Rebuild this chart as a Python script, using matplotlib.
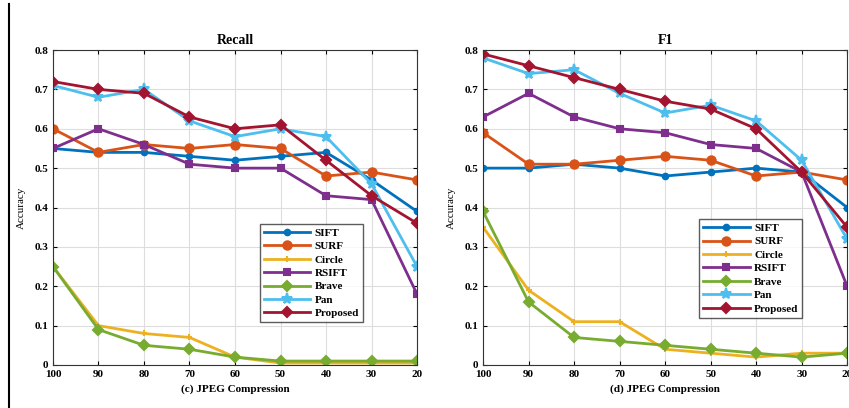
import matplotlib
matplotlib.use("Agg")
import matplotlib.pyplot as plt
from matplotlib.lines import Line2D

plt.rcParams['font.family'] = ['Liberation Serif', 'DejaVu Serif']

quality = [100, 90, 80, 70, 60, 50, 40, 30, 20]
methods = ["SIFT", "SURF", "Circle", "RSIFT", "Brave", "Pan", "Proposed"]

# Recall
recall_sift = [0.55, 0.54, 0.54, 0.53, 0.52, 0.53, 0.54, 0.47, 0.39]
recall_surf = [0.60, 0.54, 0.56, 0.55, 0.56, 0.55, 0.48, 0.49, 0.47]
recall_circle = [0.25, 0.10, 0.08, 0.07, 0.02, 0.005, 0.005, 0.005, 0.005]
recall_rsift = [0.55, 0.60, 0.56, 0.51, 0.50, 0.50, 0.43, 0.42, 0.18]
recall_brave = [0.25, 0.09, 0.05, 0.04, 0.02, 0.01, 0.01, 0.01, 0.01]
recall_pan = [0.71, 0.68, 0.70, 0.62, 0.58, 0.60, 0.58, 0.46, 0.25]
recall_proposed = [0.72, 0.70, 0.69, 0.63, 0.60, 0.61, 0.52, 0.43, 0.36]

# F1
f1_sift = [0.50, 0.50, 0.51, 0.50, 0.48, 0.49, 0.50, 0.49, 0.40]
f1_surf = [0.59, 0.51, 0.51, 0.52, 0.53, 0.52, 0.48, 0.49, 0.47]
f1_circle = [0.35, 0.19, 0.11, 0.11, 0.04, 0.03, 0.02, 0.03, 0.03]
f1_rsift = [0.63, 0.69, 0.63, 0.60, 0.59, 0.56, 0.55, 0.49, 0.20]
f1_brave = [0.39, 0.16, 0.07, 0.06, 0.05, 0.04, 0.03, 0.02, 0.03]
f1_pan = [0.78, 0.74, 0.75, 0.69, 0.64, 0.66, 0.62, 0.52, 0.32]
f1_proposed = [0.79, 0.76, 0.73, 0.70, 0.67, 0.65, 0.60, 0.49, 0.35]

colors = ["#0072BD", "#D95319", "#EDB120", "#7E2F8E", "#77AC30", "#4DBEEE", "#A2142F"]
markers = ["o", "o", "+", "s", "D", "*", "D"]
msizes = [4, 6, 5, 5, 5, 8, 5]

fig = plt.figure(figsize=(8.49, 4.08), dpi=100)
ax1 = fig.add_axes([0.0624, 0.1054, 0.4288, 0.772])
ax2 = fig.add_axes([0.569, 0.1054, 0.4288, 0.772])

panels = [
    (ax1, [recall_sift, recall_surf, recall_circle, recall_rsift, recall_brave, recall_pan, recall_proposed],
     "Recall", "(c) JPEG Compression", (0.553, 0.118)),
    (ax2, [f1_sift, f1_surf, f1_circle, f1_rsift, f1_brave, f1_pan, f1_proposed],
     "F1", "(d) JPEG Compression", (0.578, 0.133)),
]

for ax, series, title, xlabel, legpos in panels:
    for vals, name, c, m, ms in zip(series, methods, colors, markers, msizes):
        ax.plot(quality, vals, color=c, marker=m, markersize=ms, linewidth=2,
                markeredgewidth=1.5, label=name)
    ax.set_xlim(100, 20)
    ax.set_ylim(0, 0.8)
    ax.set_xticks(quality)
    ax.set_xticklabels([str(q) for q in quality])
    ax.set_yticks([0, 0.1, 0.2, 0.3, 0.4, 0.5, 0.6, 0.7, 0.8])
    ax.set_yticklabels(["0", "0.1", "0.2", "0.3", "0.4", "0.5", "0.6", "0.7", "0.8"])
    ax.grid(True, color="#dddddd", linewidth=0.8)
    ax.set_axisbelow(True)
    ax.tick_params(direction="in", top=True, right=True, labelsize=8, length=3)
    for lab in ax.get_xticklabels() + ax.get_yticklabels():
        lab.set_fontweight("bold")
    for sp in ax.spines.values():
        sp.set_color("#333333")
    ax.set_title(title, fontsize=10, fontweight="bold", pad=4)
    ax.set_xlabel(xlabel, fontsize=8, fontweight="bold", labelpad=4)
    ax.set_ylabel("Accuracy", fontsize=8, labelpad=6)
    ax.legend(loc="lower left", bbox_to_anchor=legpos, frameon=True,
              fancybox=False, edgecolor="#333333", handlelength=4.2,
              borderpad=0.35, labelspacing=0.33, handletextpad=0.4,
              prop={'weight': 'bold', 'size': 8})

fig.add_artist(Line2D([9 / 849, 9 / 849], [0, 0.99], color="black", linewidth=1.5))

fig.savefig("out.png", dpi=100)
